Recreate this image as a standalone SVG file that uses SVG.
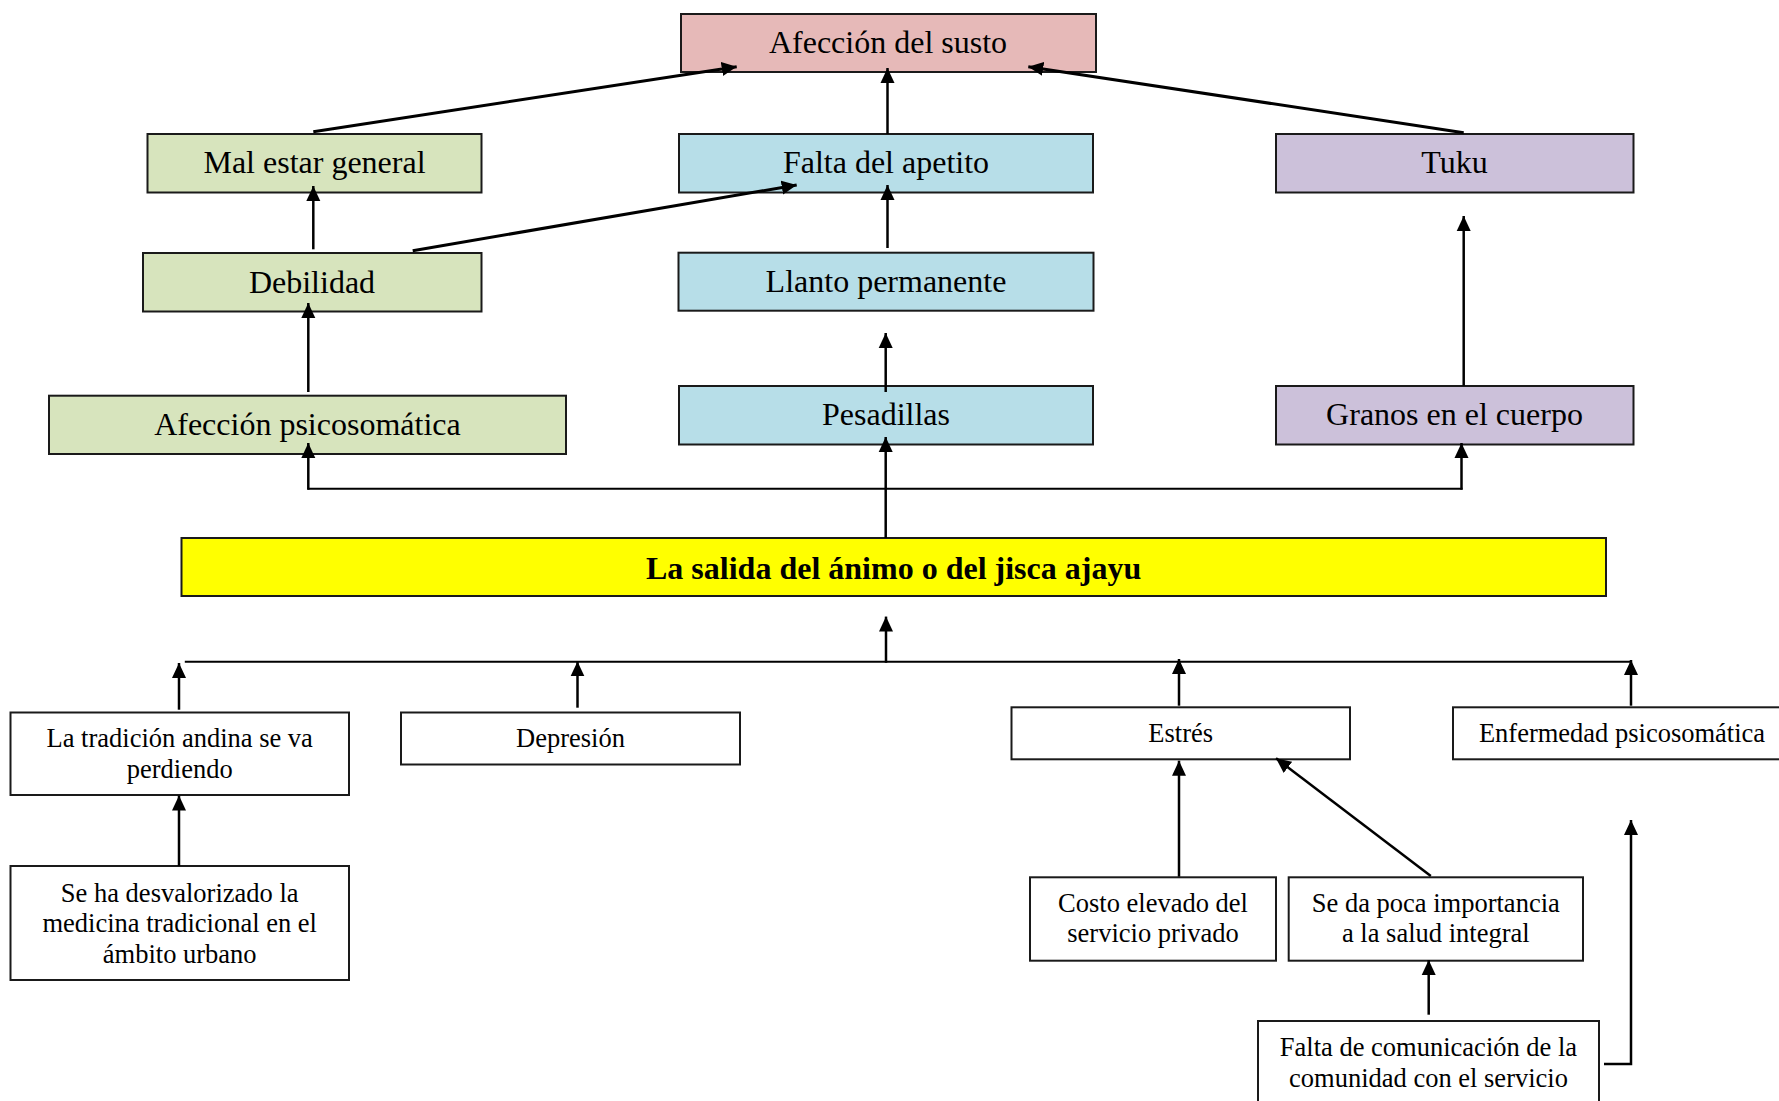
<svg xmlns="http://www.w3.org/2000/svg" width="1779" height="1101" viewBox="0 0 1779 1101">
<style>
  .box { stroke: #1a1a1a; stroke-width: 2; }
  .w { fill: #ffffff; }
  .g { fill: #D7E4BD; }
  .b { fill: #B7DEE8; }
  .p { fill: #E6B9B8; }
  .v { fill: #CCC1DA; }
  .y { fill: #FFFF00; }
  .t { font-family: "Liberation Serif", "Times New Roman", serif; fill: #000; text-anchor: middle; }
  .big { font-size: 32px; }
  .sm { font-size: 26.5px; }
  .bold { font-weight: bold; }
  .c { stroke: #000; stroke-width: 2.5; fill: none; }
  .cd { stroke: #000; stroke-width: 3; fill: none; }
  .bus { stroke: #000; stroke-width: 2; fill: none; }
</style>
<defs>
  <marker id="ah" markerUnits="userSpaceOnUse" markerWidth="16" markerHeight="15" refX="15" refY="7" orient="auto" viewBox="0 0 16 14">
    <path d="M0,0 L15,7 L0,14 z" fill="#000"/>
  </marker>
</defs>
<rect width="1779" height="1101" fill="#fff"/>

<g id="n-afeccion-susto">
  <rect class="box p" x="681" y="14" width="415" height="58"/>
  <text class="t big" x="888" y="53">Afección del susto</text>
</g>
<g id="n-mal-estar">
  <rect class="box g" x="147.5" y="134" width="334" height="58.5"/>
  <text class="t big" x="314.5" y="173">Mal estar general</text>
</g>
<g id="n-falta-apetito">
  <rect class="box b" x="679" y="134" width="414" height="58.5"/>
  <text class="t big" x="886" y="173">Falta del apetito</text>
</g>
<g id="n-tuku">
  <rect class="box v" x="1276" y="134" width="357.5" height="58.5"/>
  <text class="t big" x="1454.5" y="173">Tuku</text>
</g>
<g id="n-debilidad">
  <rect class="box g" x="143" y="253" width="338.5" height="58.5"/>
  <text class="t big" x="312" y="292.7">Debilidad</text>
</g>
<g id="n-llanto">
  <rect class="box b" x="678.5" y="252.7" width="415" height="58"/>
  <text class="t big" x="886" y="291.7">Llanto permanente</text>
</g>
<g id="n-afeccion-psico">
  <rect class="box g" x="49" y="395.7" width="517" height="58.3"/>
  <text class="t big" x="307.4" y="435">Afección psicosomática</text>
</g>
<g id="n-pesadillas">
  <rect class="box b" x="679" y="386" width="414" height="58.5"/>
  <text class="t big" x="886" y="425">Pesadillas</text>
</g>
<g id="n-granos">
  <rect class="box v" x="1276" y="386" width="357.5" height="58.5"/>
  <text class="t big" x="1454.5" y="425">Granos en el cuerpo</text>
</g>
<g id="n-salida">
  <rect class="box y" x="181.5" y="538" width="1424.5" height="58"/>
  <text class="t big bold" x="893.6" y="579">La salida del ánimo o del jisca ajayu</text>
</g>
<g id="n-tradicion">
  <rect class="box w" x="10.5" y="712.5" width="338.5" height="82.5"/>
  <text class="t sm" x="179.7" y="747">La tradición andina se va</text>
  <text class="t sm" x="179.7" y="778">perdiendo</text>
</g>
<g id="n-depresion">
  <rect class="box w" x="401" y="712.5" width="339" height="52"/>
  <text class="t sm" x="570.5" y="747">Depresión</text>
</g>
<g id="n-estres">
  <rect class="box w" x="1011.5" y="707.3" width="338.5" height="52"/>
  <text class="t sm" x="1180.7" y="741.7">Estrés</text>
</g>
<g id="n-enfermedad">
  <rect class="box w" x="1453" y="707.3" width="340" height="52"/>
  <text class="t sm" x="1622" y="741.7">Enfermedad psicosomática</text>
</g>
<g id="n-desvalorizado">
  <rect class="box w" x="10.5" y="866" width="338.5" height="114"/>
  <text class="t sm" x="179.7" y="902">Se ha desvalorizado la</text>
  <text class="t sm" x="179.7" y="932">medicina tradicional en el</text>
  <text class="t sm" x="179.7" y="962.5">ámbito urbano</text>
</g>
<g id="n-costo">
  <rect class="box w" x="1030" y="877.3" width="246" height="83.4"/>
  <text class="t sm" x="1153" y="911.7">Costo elevado del</text>
  <text class="t sm" x="1153" y="942.3">servicio privado</text>
</g>
<g id="n-poca-importancia">
  <rect class="box w" x="1288.7" y="877.3" width="294.3" height="83.4"/>
  <text class="t sm" x="1435.8" y="912">Se da poca importancia</text>
  <text class="t sm" x="1435.8" y="942.3">a la salud integral</text>
</g>
<g id="n-falta-comunicacion">
  <rect class="box w" x="1258" y="1021" width="341" height="100"/>
  <text class="t sm" x="1428.5" y="1055.7">Falta de comunicación de la</text>
  <text class="t sm" x="1428.5" y="1086.7">comunidad con el servicio</text>
</g>

<g id="connectors">
  <line class="cd" x1="313.3" y1="131.7" x2="736.7" y2="66.7" marker-end="url(#ah)"/>
  <line class="cd" x1="1463.7" y1="132.7" x2="1028.3" y2="66.7" marker-end="url(#ah)"/>
  <line class="c" x1="887.5" y1="134" x2="887.5" y2="68" marker-end="url(#ah)"/>
  <line class="cd" x1="412.7" y1="250.7" x2="796.7" y2="185" marker-end="url(#ah)"/>
  <line class="c" x1="313.3" y1="249.3" x2="313.3" y2="186" marker-end="url(#ah)"/>
  <line class="c" x1="887.5" y1="248" x2="887.5" y2="185" marker-end="url(#ah)"/>
  <line class="c" x1="885.7" y1="392" x2="885.7" y2="333" marker-end="url(#ah)"/>
  <line class="c" x1="308.3" y1="392" x2="308.3" y2="303" marker-end="url(#ah)"/>
  <line class="c" x1="1463.7" y1="385.7" x2="1463.7" y2="216" marker-end="url(#ah)"/>
  <line class="c" x1="885.7" y1="538" x2="885.7" y2="437" marker-end="url(#ah)"/>
  <line class="bus" x1="307.5" y1="488.7" x2="1462.5" y2="488.7"/>
  <line class="c" x1="308.3" y1="489.7" x2="308.3" y2="443" marker-end="url(#ah)"/>
  <line class="c" x1="1461.5" y1="489.7" x2="1461.5" y2="443" marker-end="url(#ah)"/>
  <line class="bus" x1="184.8" y1="661.8" x2="1631" y2="661.8"/>
  <line class="c" x1="886" y1="662.8" x2="886" y2="616.6" marker-end="url(#ah)"/>
  <line class="c" x1="179" y1="709.7" x2="179" y2="663" marker-end="url(#ah)"/>
  <line class="c" x1="577.5" y1="707.7" x2="577.5" y2="661.4" marker-end="url(#ah)"/>
  <line class="c" x1="1179" y1="705.7" x2="1179" y2="659" marker-end="url(#ah)"/>
  <line class="c" x1="1631" y1="705.7" x2="1631" y2="660" marker-end="url(#ah)"/>
  <line class="c" x1="179" y1="866" x2="179" y2="795.6" marker-end="url(#ah)"/>
  <line class="c" x1="1179" y1="876.7" x2="1179" y2="760.7" marker-end="url(#ah)"/>
  <line class="c" x1="1430.8" y1="876" x2="1276" y2="758.3" marker-end="url(#ah)"/>
  <line class="c" x1="1428.7" y1="1014.7" x2="1428.7" y2="960" marker-end="url(#ah)"/>
  <polyline class="c" points="1604,1064 1631,1064 1631,820" marker-end="url(#ah)"/>
</g>
</svg>
